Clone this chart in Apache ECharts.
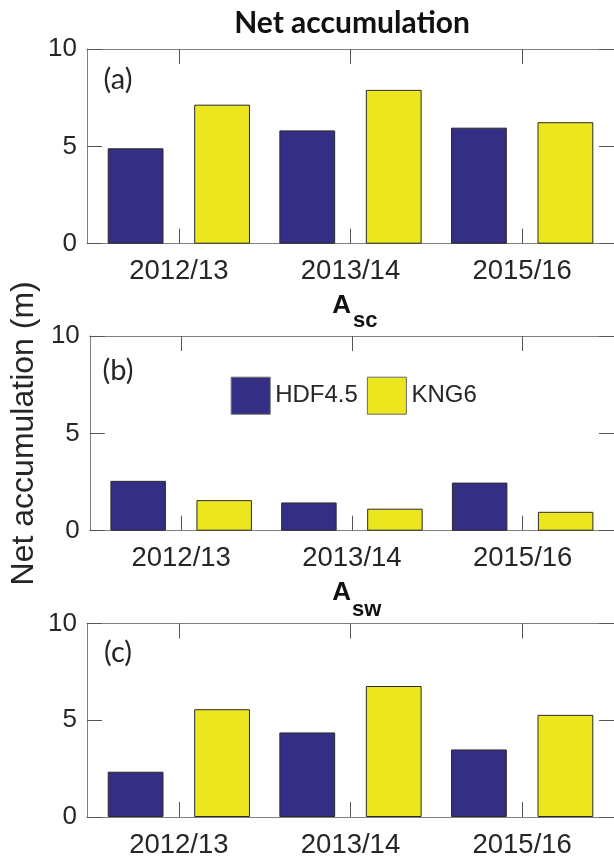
<!DOCTYPE html>
<html>
<head>
<meta charset="utf-8">
<script src="https://cdn.jsdelivr.net/npm/echarts@6/dist/echarts.min.js"></script>
<style>
  html, body { margin: 0; padding: 0; background: #fff; }
  #chart { width: 614px; height: 859px; }
</style>
</head>
<body>
<div id="chart"></div>
<script>
// Seasons shown on every panel
const categories = ['2012/13', '2013/14', '2015/16'];
const seriesNames = ['HDF4.5', 'KNG6'];

// Net accumulation (m), panel (a)
const netHDF = [4.90, 5.82, 5.96];
const netKNG = [7.14, 7.90, 6.24];
// A_sc component (m), panel (b)
const scHDF = [2.56, 1.45, 2.47];
const scKNG = [1.57, 1.13, 0.97];
// A_sw component (m), panel (c)
const swHDF = [2.34, 4.37, 3.49];
const swKNG = [5.57, 6.77, 5.28];

const yTicks = [0, 5, 10];
const panelLetters = ['(a)', '(b)', '(c)'];

const colors = ['#342e85', '#ece61f'];
const textColor = '#262626';
const axisColor = '#808080';
const tickColor = '#555555';
const sans = 'Liberation Sans, Arial, sans-serif';

const positions = categories.map((c, i) => i + 1);

const panels = [
  { top: 49, values: [netHDF, netKNG] },
  { top: 336, values: [scHDF, scKNG] },
  { top: 623.5, values: [swHDF, swKNG] }
];

const grids = [], xAxes = [], yAxes = [], series = [];

panels.forEach((p, k) => {
  grids.push({ left: 87, width: 530, top: p.top, height: 194.7, containLabel: false });
  const xBase = {
    gridIndex: k, type: 'value', min: 0.465, max: 3.535,
    splitLine: { show: false },
    axisLine: { show: true, onZero: false, lineStyle: { color: axisColor, width: 1 } },
    axisTick: { show: true, inside: true, length: 15, customValues: positions,
                lineStyle: { color: tickColor, width: 1 } }
  };
  xAxes.push(Object.assign({}, xBase, {
    position: 'bottom',
    axisLabel: { show: true, customValues: positions, margin: 14,
                 fontSize: 27.5, fontFamily: sans, color: textColor,
                 formatter: v => categories[Math.round(v) - 1] || '' }
  }));
  xAxes.push(Object.assign({}, xBase, { position: 'top', axisLabel: { show: false } }));
  const yBase = {
    gridIndex: k, type: 'value', min: yTicks[0], max: yTicks[yTicks.length - 1], interval: 5,
    splitLine: { show: false },
    axisLine: { show: true, onZero: false, lineStyle: { color: axisColor, width: 1 } },
    axisTick: { show: true, inside: true, length: 15, lineStyle: { color: tickColor, width: 1 } }
  };
  const yLeft = Object.assign({}, yBase, {
    position: 'left',
    axisLabel: { show: true, margin: 10, fontSize: 26, fontFamily: sans, color: textColor }
  });
  if (k === 1) {
    Object.assign(yLeft, {
      name: 'Net accumulation (m)', nameLocation: 'middle', nameGap: 46, nameRotate: 90,
      nameTextStyle: { fontSize: 32, fontFamily: sans, color: textColor }
    });
  }
  yAxes.push(yLeft);
  yAxes.push(Object.assign({}, yBase, { position: 'right', axisLabel: { show: false } }));

  p.values.forEach((vals, j) => {
    series.push({
      type: 'bar', name: seriesNames[j],
      xAxisIndex: 2 * k, yAxisIndex: 2 * k,
      barWidth: '32.5%', barGap: '55%',
      itemStyle: { color: colors[j], borderColor: '#2a2a2a', borderWidth: 1 },
      emphasis: { disabled: true },
      data: positions.map((x, i) => [x, vals[i]])
    });
  });
});

// Panel titles; the component titles are a bold "A" with a bold subscript
const bold = (text, x, y, size, align) => ({
  type: 'text', x: x, y: y,
  style: { text: text, fontFamily: sans, fontWeight: 'bold', fontSize: size,
           fill: '#111', align: align, verticalAlign: 'middle' }
});
const graphic = [
  { type: 'text', x: 352, y: 23.5,
    style: { text: 'Net accumulation', fontFamily: 'Lato, sans-serif', fontWeight: 'bold',
             fontSize: 30, fill: '#111', align: 'center', verticalAlign: 'middle' } },
  bold('A', 351, 306, 26, 'right'),
  bold('sc', 353, 320.5, 22, 'left'),
  bold('A', 351, 593, 26, 'right'),
  bold('sw', 352, 609.5, 22, 'left')
];
[80, 371, 653].forEach((cy, k) => {
  graphic.push({ type: 'text', x: 118, y: cy,
    style: { text: panelLetters[k], fontFamily: 'Lato, sans-serif', fontSize: 29,
             fill: textColor, align: 'center', verticalAlign: 'middle' } });
});

const chart = echarts.init(document.getElementById('chart'), null, { renderer: 'canvas' });
chart.setOption({
  animation: false,
  backgroundColor: '#ffffff',
  grid: grids,
  xAxis: xAxes,
  yAxis: yAxes,
  legend: {
    data: seriesNames, left: 230.7, top: 376.7, padding: 0, itemGap: 9,
    itemWidth: 39, itemHeight: 37, icon: 'rect', selectedMode: false,
    itemStyle: { borderColor: '#6a6a6a', borderWidth: 1 },
    textStyle: { fontSize: 24, fontFamily: sans, color: textColor, padding: [0, 0, 0, 0] }
  },
  series: series,
  graphic: graphic
});
</script>
</body>
</html>
